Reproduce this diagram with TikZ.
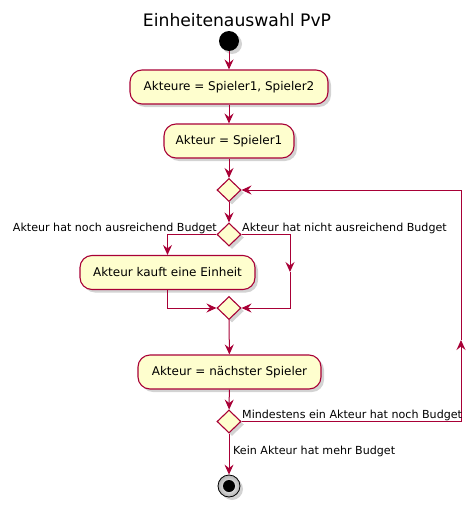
\documentclass[tikz,border=0pt]{standalone}
\usepackage{fontspec}
\setmainfont{DejaVu Sans}
\usetikzlibrary{arrows.meta,shapes.geometric,shadows}
\definecolor{umlborder}{HTML}{A80036}
\definecolor{umlfill}{HTML}{FEFECE}
\tikzset{
  shd/.style={drop shadow={shadow xshift=3pt,shadow yshift=-3pt,opacity=0.35,fill=gray}},
  action/.style={draw=umlborder,fill=umlfill,line width=1.1pt,rounded corners=12pt,
    minimum height=34pt,inner sep=0pt,font=\fontsize{12}{14}\selectfont,shd},
  decision/.style={diamond,draw=umlborder,fill=umlfill,line width=1.1pt,
    minimum width=24pt,minimum height=23pt,inner sep=0pt,shd},
  arr/.style={draw=umlborder,line width=1pt,-{Stealth[length=10pt,width=9pt,inset=3.5pt]}},
  ln/.style={draw=umlborder,line width=1pt},
  lbl/.style={font=\fontsize{11.1}{13}\selectfont,inner sep=0pt}
}
\begin{document}
\begin{tikzpicture}[x=1pt,y=-1pt]
\useasboundingbox (0,0) rectangle (475,506);
\node[font=\fontsize{17.2}{19}\selectfont] (title) at (237,20) {Einheitenauswahl PvP};
\node[circle,fill=black,minimum size=20pt,inner sep=0pt,shd] (start) at (229,41) {};
\node[action,minimum width=198pt] (b1) at (229,87) {Akteure = Spieler1, Spieler2};
\node[action,minimum width=130pt] (b2) at (229,141) {Akteur = Spieler1};
\node[decision] (d1) at (229,190) {};
\node[decision] (d2) at (229,234.5) {};
\node[action,minimum width=175pt] (b3) at (167.5,272.5) {Akteur kauft eine Einheit};
\node[decision] (d3) at (229,308) {};
\node[action,minimum width=183pt] (b4) at (229.5,372) {Akteur = nächster Spieler};
\node[decision] (d4) at (229,421.5) {};
\node[circle,draw=black,line width=0.8pt,inner color=white,outer color=gray!60,minimum size=22pt,inner sep=0pt,shd] (end) at (229,486) {};
\node[circle,fill=black,minimum size=12pt,inner sep=0pt] (endin) at (229,486) {};
\coordinate (r1) at (290,272);
\coordinate (r2) at (461,340);
\coordinate (r3) at (461,421.5);
\draw[arr] (start) -- (b1);
\draw[arr] (b1) -- (b2);
\draw[arr] (b2) -- (d1);
\draw[arr] (d1) -- (d2);
\draw[arr] (d2.west) -| (b3.north);
\draw[arr] (d2.east) -| (r1);
\draw[arr] (r1) |- (d3.east);
\draw[arr] (b3.south) |- (d3.west);
\draw[arr] (d3) -- (b4);
\draw[arr] (b4) -- (d4);
\draw[arr] (d4.east) -- (r3) -- (r2);
\draw[arr] (r2) |- (d1.east);
\draw[arr] (d4) -- (end);
\node[lbl,anchor=east] (l1) at (217,228) {Akteur hat noch ausreichend Budget};
\node[lbl,anchor=west] (l2) at (242,228) {Akteur hat nicht ausreichend Budget};
\node[lbl,anchor=west] (l3) at (242,415) {Mindestens ein Akteur hat noch Budget};
\node[lbl,anchor=west] (l4) at (233,451) {Kein Akteur hat mehr Budget};
\end{tikzpicture}
\end{document}
